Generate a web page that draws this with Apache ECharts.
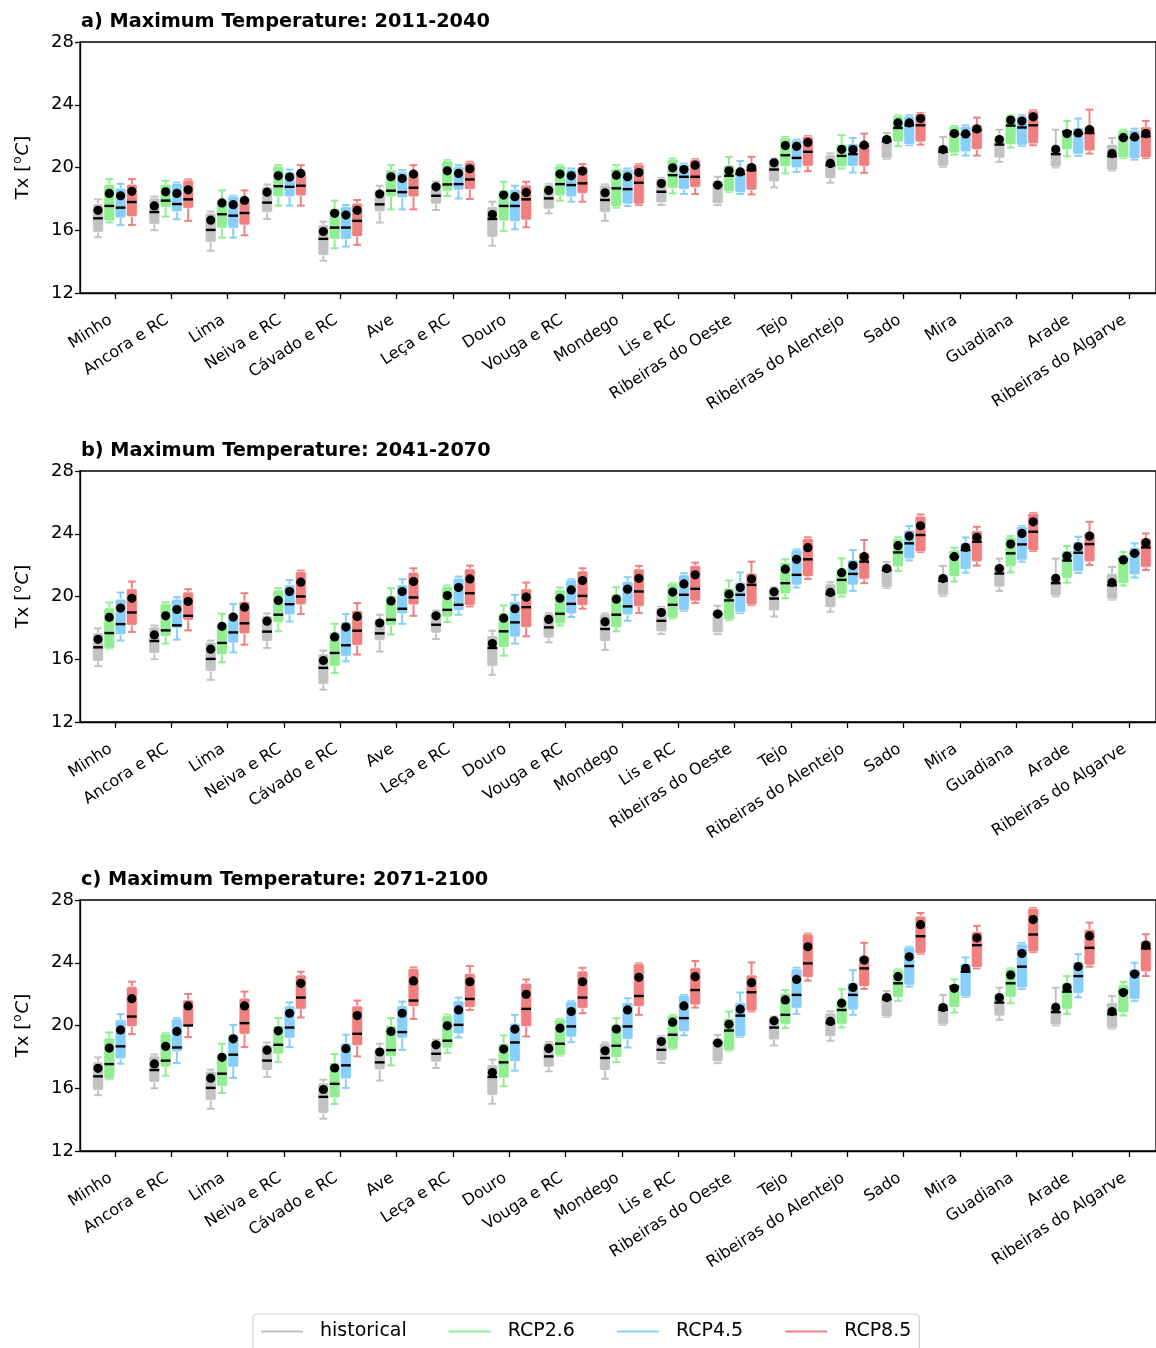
<!DOCTYPE html>
<html>
<head>
<meta charset="utf-8">
<script src="https://cdn.jsdelivr.net/npm/echarts@6/dist/echarts.min.js"></script>
<style>
html,body{margin:0;padding:0;background:#fff;}
#chart{width:1156px;height:1348px;}
</style>
</head>
<body>
<div id="chart"></div>
<script>
// Basin names (x categories)
const BASINS = ['Minho','Ancora e RC','Lima','Neiva e RC','Cávado e RC','Ave','Leça e RC','Douro','Vouga e RC','Mondego','Lis e RC','Ribeiras do Oeste','Tejo','Ribeiras do Alentejo','Sado','Mira','Guadiana','Arade','Ribeiras do Algarve'];
const SCENARIOS = ['historical','RCP2.6','RCP4.5','RCP8.5'];
const PERIOD_TITLES = ['a) Maximum Temperature: 2011-2040','b) Maximum Temperature: 2041-2070','c) Maximum Temperature: 2071-2100'];
const Y_TICKS = [12, 16, 20, 24, 28];

// each entry: [lower whisker, Q1, median, Q3, upper whisker, mean]
const historical = [
 [15.56,15.87,16.76,17.67,17.97,17.27],[16.0,16.38,17.16,18.05,18.15,17.55],[14.69,15.24,16.02,17.08,17.19,16.64],
 [16.72,17.14,17.76,18.77,18.92,18.43],[14.06,14.4,15.45,16.34,16.55,15.92],[16.49,17.19,17.65,18.56,18.84,18.31],
 [17.29,17.67,18.2,19.0,19.1,18.77],[15.01,15.56,16.72,17.5,17.82,17.0],[17.08,17.36,18.03,18.9,18.94,18.54],
 [16.6,17.14,17.93,18.88,18.92,18.39],[17.61,17.76,18.45,19.3,19.34,18.98],[17.6,17.7,18.88,19.15,19.41,18.88],
 [18.73,19.09,19.87,20.5,20.57,20.3],[19.03,19.3,20.15,20.8,20.9,20.26],[20.55,20.57,21.67,21.95,22.2,21.78],
 [20.04,20.08,21.0,21.36,21.95,21.14],[20.36,20.61,21.46,21.95,22.41,21.78],[20.0,20.04,20.85,21.14,22.41,21.16],
 [19.8,19.83,20.72,21.46,21.88,20.89]
];
const rcp26_2011 = [
 [16.5,16.6,17.55,18.92,19.26,18.35],[16.87,17.46,17.89,18.92,19.15,18.45],[15.53,16.13,17.02,17.97,18.54,17.74],
 [17.57,18.14,18.81,20.08,20.15,19.47],[14.86,15.43,16.17,17.36,17.89,17.08],[17.33,18.14,18.52,19.84,20.15,19.41],
 [18.18,18.5,18.92,20.42,20.47,19.79],[15.96,16.6,17.55,18.56,19.09,18.24],[17.89,18.2,18.94,20.12,20.15,19.58],
 [17.44,17.5,18.67,19.94,20.15,19.51],[18.35,18.67,19.51,20.52,20.57,19.98],[18.45,18.47,19.47,20.15,20.68,19.79],
 [19.62,20.08,20.78,21.9,21.95,21.4],[19.94,20.04,20.74,21.48,22.06,21.16],[21.36,21.63,22.52,23.3,23.33,22.84],
 [20.83,20.93,22.12,22.63,22.65,22.16],[21.27,21.46,22.67,23.3,23.33,23.02],[20.72,21.14,22.27,22.42,22.97,22.16],
 [20.6,20.63,21.9,22.38,22.41,21.9]
];
const rcp45_2011 = [
 [16.34,16.8,17.44,18.67,18.96,18.2],[16.7,17.19,17.67,18.98,19.03,18.35],[15.53,16.13,16.93,18.18,18.2,17.63],
 [17.57,18.14,18.77,19.72,19.87,19.39],[14.96,15.43,16.17,17.5,17.61,16.97],[17.33,18.07,18.43,19.72,19.83,19.3],
 [18.03,18.56,18.94,20.05,20.15,19.62],[16.06,16.55,17.55,18.6,18.84,18.14],[17.82,18.14,18.88,19.87,19.94,19.47],
 [17.55,17.67,18.62,19.87,19.94,19.41],[18.31,18.62,19.41,20.21,20.25,19.87],[18.31,18.41,19.58,19.94,20.42,19.72],
 [19.72,19.98,20.61,21.75,21.78,21.35],[19.68,20.08,20.85,21.52,21.88,21.14],[21.42,21.46,22.69,23.28,23.33,22.84],
 [20.76,21.0,22.12,22.63,22.69,22.14],[21.38,21.42,22.55,23.27,23.33,22.96],[20.74,20.85,22.16,22.52,23.12,22.2],
 [20.5,20.57,21.9,22.37,22.48,21.95]
];
const rcp85_2011 = [
 [16.34,16.87,17.8,18.92,19.26,18.48],[16.6,17.4,17.97,19.2,19.24,18.58],[15.68,16.34,17.1,18.07,18.54,17.9],
 [17.57,18.2,18.84,19.72,20.15,19.62],[15.07,15.6,16.6,17.72,17.93,17.27],[17.33,18.14,18.71,19.72,20.15,19.58],
 [17.99,18.6,19.24,20.33,20.36,19.92],[16.19,16.66,17.97,18.88,19.09,18.41],[17.82,18.35,18.99,20.04,20.21,19.77],
 [17.61,17.67,19.03,20.18,20.21,19.68],[18.31,18.73,19.41,20.5,20.53,20.15],[18.29,18.56,19.83,20.21,20.68,20.0],
 [19.77,20.08,21.0,21.97,22.0,21.6],[19.66,20.08,21.37,21.63,22.16,21.42],[21.46,21.63,22.69,23.44,23.48,23.12],
 [20.76,21.14,22.37,22.73,23.18,22.46],[21.42,21.52,22.69,23.62,23.65,23.23],[20.89,21.06,22.2,22.63,23.69,22.41],
 [20.6,20.63,21.99,22.59,22.97,22.16]
];
const rcp26_2041 = [
 [16.68,16.7,17.67,19.26,19.62,18.67],[17.0,17.46,17.84,19.53,19.62,18.77],[15.81,16.3,17.04,18.26,18.9,18.1],
 [17.78,18.35,18.84,20.42,20.53,19.75],[15.13,15.56,16.4,17.71,18.26,17.42],[17.57,18.16,18.52,20.04,20.53,19.72],
 [18.37,18.69,19.15,20.65,20.7,20.06],[16.23,16.76,17.78,18.94,19.43,18.62],[18.16,18.26,18.9,20.42,20.57,19.89],
 [17.78,18.03,18.84,20.15,20.59,19.83],[18.6,18.62,19.47,20.82,20.85,20.28],[18.5,18.52,19.75,20.53,21.02,20.15],
 [19.89,20.17,20.85,22.16,22.37,21.74],[20.0,20.11,21.06,21.74,22.43,21.52],[21.63,21.9,22.81,23.7,23.77,23.24],
 [20.95,21.27,22.54,22.96,23.11,22.54],[21.54,21.9,22.75,23.77,23.85,23.34],[20.89,21.16,22.29,22.92,23.22,22.58],
 [20.7,20.85,22.37,22.65,22.84,22.33]
];
const rcp45_2041 = [
 [17.19,17.57,18.24,19.83,20.25,19.26],[17.25,17.99,18.16,19.83,19.96,19.17],[16.44,17.04,17.71,18.9,19.53,18.69],
 [18.41,18.84,19.51,20.74,21.06,20.32],[15.87,16.19,16.89,18.37,18.88,18.05],[18.26,18.9,19.22,20.74,21.1,20.32],
 [18.84,19.11,19.47,21.16,21.27,20.57],[17.0,17.42,18.35,19.68,20.11,19.22],[18.69,18.9,19.53,21.06,21.1,20.42],
 [18.45,18.84,19.37,20.95,21.23,20.47],[19.09,19.11,20.11,21.38,21.48,20.8],[18.94,18.98,20.11,20.91,21.54,20.57],
 [20.57,20.74,21.38,22.96,23.0,22.37],[20.36,20.74,21.44,22.33,22.96,21.97],[22.3,22.4,23.39,24.23,24.49,23.85],
 [21.52,21.74,22.96,23.43,23.77,23.13],[22.22,22.33,23.32,24.46,24.49,24.02],[21.5,21.6,22.79,23.49,23.81,23.17],
 [21.21,21.38,22.75,23.13,23.39,22.75]
];
const rcp85_2041 = [
 [17.74,18.16,18.98,20.49,20.95,19.89],[17.84,18.48,18.77,20.28,20.47,19.68],[16.93,17.63,18.29,19.68,20.21,19.32],
 [18.88,19.47,20.0,21.59,21.65,20.91],[16.3,16.89,17.82,19.11,19.58,18.73],[18.77,19.47,19.94,21.54,21.8,20.95],
 [19.37,19.43,20.21,21.76,21.97,21.12],[17.46,18.03,19.32,20.49,20.89,19.96],[19.22,19.43,20.04,21.63,21.8,21.02],
 [18.94,19.37,20.32,21.76,21.95,21.16],[19.58,19.72,20.49,21.97,22.16,21.38],[19.45,19.47,20.74,21.48,22.22,21.12],
 [21.12,21.27,22.37,23.7,23.77,23.11],[20.85,21.1,22.22,22.79,23.6,22.54],[22.84,22.86,23.92,25.12,25.23,24.51],
 [21.97,22.22,23.49,24.19,24.44,23.77],[22.9,22.92,24.13,25.3,25.33,24.76],[22.01,22.22,23.34,24.06,24.76,23.85],
 [21.69,21.86,23.13,23.7,24.02,23.43]
];
const rcp26_2071 = [
 [16.57,16.59,17.54,19.2,19.56,18.56],[16.8,17.35,17.76,19.47,19.51,18.67],[15.7,16.13,16.93,18.18,18.84,17.97],
 [17.67,18.18,18.77,20.0,20.47,19.66],[15.0,15.39,16.28,17.61,18.18,17.29],[17.46,18.03,18.43,20.0,20.47,19.62],
 [18.24,18.56,19.03,20.63,20.68,19.98],[16.13,16.66,17.65,18.84,19.37,18.5],[18.08,18.1,18.84,20.4,20.42,19.83],
 [17.67,17.97,18.71,20.04,20.47,19.77],[18.5,18.52,19.41,20.66,20.68,20.21],[18.4,18.41,19.68,20.47,20.89,20.08],
 [19.83,20.08,20.68,22.05,22.26,21.63],[19.87,20.08,20.99,21.63,22.31,21.42],[21.57,21.8,22.69,23.56,23.58,23.11],
 [20.83,21.16,22.48,22.65,22.94,22.37],[21.42,21.8,22.69,23.62,23.64,23.22],[20.74,21.04,22.16,22.73,23.15,22.43],
 [20.63,20.83,22.16,22.58,22.79,22.1]
];
const rcp45_2071 = [
 [17.57,17.88,18.67,20.36,20.72,19.72],[17.61,18.35,18.6,20.42,20.47,19.62],[16.66,17.35,18.14,19.41,20.04,19.15],
 [18.62,19.2,19.87,21.25,21.48,20.78],[16.02,16.61,17.46,18.88,19.41,18.52],[18.45,19.2,19.58,21.25,21.52,20.78],
 [19.24,19.47,20.04,21.57,21.78,20.99],[17.12,17.71,18.92,20.15,20.68,19.77],[18.94,19.26,19.94,21.55,21.57,20.89],
 [18.6,19.13,19.94,21.46,21.74,20.99],[19.37,19.62,20.47,21.93,21.95,21.25],[19.28,19.3,20.63,21.46,22.1,21.04],
 [20.74,21.1,21.95,23.6,23.68,22.94],[20.68,20.99,21.95,22.73,23.53,22.43],[22.48,22.58,23.79,25.0,25.02,24.38],
 [21.82,21.84,23.43,23.96,24.34,23.64],[22.33,22.41,23.75,25.19,25.27,24.59],[21.8,22.05,23.15,24.06,24.55,23.75],
 [21.57,21.67,23.32,23.58,24.0,23.28]
];
const rcp85_2071 = [
 [19.45,19.94,20.57,22.48,22.79,21.71],[19.26,19.95,20.0,21.63,22.01,21.25],[18.62,19.45,20.15,21.74,22.16,21.25],
 [20.51,21.04,21.78,23.22,23.43,22.69],[18.03,18.73,19.47,21.25,21.59,20.63],[20.42,21.21,21.59,23.64,23.7,22.84],
 [20.99,21.16,21.69,23.32,23.79,22.79],[19.3,19.94,21.06,22.69,22.94,21.99],[20.78,21.1,21.78,23.47,23.68,22.79],
 [20.68,21.21,21.88,23.94,23.96,23.07],[21.14,21.31,22.26,23.68,24.11,23.11],[20.9,20.93,22.12,23.22,24.02,22.73],
 [22.86,23.07,23.96,25.84,25.86,25.02],[22.33,22.48,23.64,24.42,25.27,24.17],[24.57,24.59,25.69,26.96,27.17,26.43],
 [23.64,23.7,25.12,25.97,26.35,25.59],[24.68,24.7,25.8,27.47,27.49,26.75],[23.75,23.85,24.95,26.12,26.56,25.71],
 [23.15,23.43,24.91,25.4,25.82,25.12]
];

const PANELS = [
  [historical, rcp26_2011, rcp45_2011, rcp85_2011],
  [historical, rcp26_2041, rcp45_2041, rcp85_2041],
  [historical, rcp26_2071, rcp45_2071, rcp85_2071]
];

// ---------- styling ----------
const COLORS = ['#c2c2c2', '#90ee90', '#87cefa', '#f08080'];
const OFFSETS = [-0.3, -0.1, 0.1, 0.3];
const BOX_W = 0.19;
const FONT = "'DejaVu Sans', 'Liberation Sans', sans-serif";
const GRID_TOPS = [42, 471, 900];
const GRID_H = 251;

function renderBox(params, api) {
  const x = api.value(0);
  const lo = api.coord([x, api.value(1)]);
  const q1 = api.coord([x, api.value(2)]);
  const md = api.coord([x, api.value(3)]);
  const q3 = api.coord([x, api.value(4)]);
  const hi = api.coord([x, api.value(5)]);
  const mn = api.coord([x, api.value(6)]);
  const w = api.size([BOX_W, 0])[0];
  const cap = w * 0.72;
  const cx = md[0];
  const color = api.visual('color');
  const ls = {stroke: color, lineWidth: 2};
  return {
    type: 'group',
    children: [
      {type: 'line', shape: {x1: cx, y1: q3[1], x2: cx, y2: hi[1]}, style: ls},
      {type: 'line', shape: {x1: cx, y1: q1[1], x2: cx, y2: lo[1]}, style: ls},
      {type: 'line', shape: {x1: cx - cap / 2, y1: hi[1], x2: cx + cap / 2, y2: hi[1]}, style: ls},
      {type: 'line', shape: {x1: cx - cap / 2, y1: lo[1], x2: cx + cap / 2, y2: lo[1]}, style: ls},
      {type: 'rect', shape: {x: cx - w / 2, y: q3[1], width: w, height: Math.max(q1[1] - q3[1], 1), r: 2},
        style: {fill: color, stroke: 'rgba(255,255,255,0.6)', lineWidth: 0.8}},
      {type: 'line', shape: {x1: cx - w / 2 + 0.5, y1: md[1], x2: cx + w / 2 - 0.5, y2: md[1]}, style: {stroke: '#000', lineWidth: 2.4}},
      {type: 'circle', shape: {cx: cx, cy: mn[1], r: 4.6}, style: {fill: '#000'}}
    ]
  };
}

const grids = [], xAxes = [], yAxes = [], titles = [], series = [];
const TICK_VALUES = BASINS.map((b, i) => i);
PANELS.forEach((panel, p) => {
  grids.push({left: 80, right: -2, top: GRID_TOPS[p], height: GRID_H, show: true, borderColor: '#000', borderWidth: 1.3, backgroundColor: 'transparent'});
  xAxes.push({
    type: 'value', gridIndex: p, min: -0.62, max: 18.48,
    axisLine: {show: true, onZero: false, lineStyle: {color: '#000', width: 1.3}},
    axisTick: {show: true, customValues: TICK_VALUES, length: 6, lineStyle: {color: '#000', width: 1.3}},
    axisLabel: {show: true, customValues: TICK_VALUES, rotate: 33, margin: 23, color: '#000', fontSize: 16, fontFamily: FONT,
      padding: [0, 5, 0, 0],
      formatter: v => BASINS[Math.round(v)]},
    splitLine: {show: false}
  });
  yAxes.push({
    type: 'value', gridIndex: p, min: Y_TICKS[0], max: Y_TICKS[Y_TICKS.length - 1], interval: 4,
    axisLine: {show: true, onZero: false, lineStyle: {color: '#000', width: 1.3}},
    axisTick: {show: true, length: 5, lineStyle: {color: '#000', width: 1.3}},
    axisLabel: {color: '#000', fontSize: 18, fontFamily: FONT, margin: 6},
    splitLine: {show: false},
    name: '{n|Tx [}{s|o}{i|C}{n|]}',
    nameLocation: 'middle', nameGap: 46,
    nameTextStyle: {
      color: '#000', fontFamily: FONT, fontSize: 18,
      rich: {
        n: {fontSize: 18, fontFamily: FONT, color: '#000', lineHeight: 22},
        s: {fontSize: 12, fontFamily: FONT, color: '#000', verticalAlign: 'top', lineHeight: 22, padding: [0, 1, 6, 1]},
        i: {fontSize: 18, fontFamily: FONT, fontStyle: 'italic', color: '#000', lineHeight: 22}
      }
    }
  });
  titles.push({text: PERIOD_TITLES[p], left: 81, top: GRID_TOPS[p] - 30, padding: 0,
    textStyle: {fontFamily: FONT, fontWeight: 'bold', fontSize: 19.3, color: '#000'}});
  panel.forEach((arr, s) => {
    series.push({
      type: 'custom', name: SCENARIOS[s], xAxisIndex: p, yAxisIndex: p,
      itemStyle: {color: COLORS[s]},
      renderItem: renderBox,
      encode: {x: 0, y: [1, 2, 3, 4, 5, 6]},
      data: arr.map((d, i) => [i + OFFSETS[s]].concat(d)),
      silent: true, animation: false
    });
  });
});

const chart = echarts.init(document.getElementById('chart'), null, {renderer: 'canvas'});
chart.setOption({
  animation: false,
  backgroundColor: '#fff',
  textStyle: {fontFamily: FONT},
  title: titles,
  grid: grids,
  xAxis: xAxes,
  yAxis: yAxes,
  legend: {
    data: SCENARIOS.map(n => ({name: n, icon: 'rect'})),
    left: 253, top: 1314,
    itemWidth: 42, itemHeight: 2, itemGap: 42,
    padding: [8, 8, 16, 8],
    borderColor: '#cfcfcf', borderWidth: 1.2, borderRadius: 4,
    textStyle: {fontFamily: FONT, fontSize: 19, color: '#000', padding: [0, 0, 0, 12]},
    selectedMode: false
  },
  series: series
});
</script>
</body>
</html>
